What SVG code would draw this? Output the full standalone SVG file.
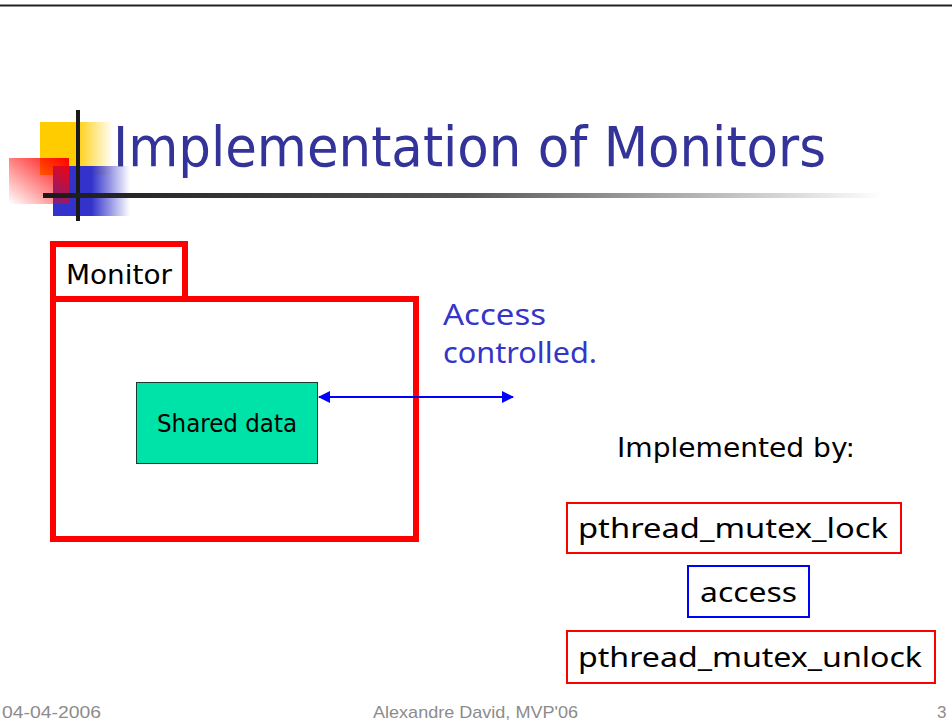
<svg xmlns="http://www.w3.org/2000/svg" width="952" height="724" viewBox="0 0 952 724">
  <defs>
    <linearGradient id="gYellow" x1="0" y1="0" x2="1" y2="0">
      <stop offset="0" stop-color="#FFCC00"/>
      <stop offset="0.48" stop-color="#FFCC00"/>
      <stop offset="1" stop-color="#FFCC00" stop-opacity="0"/>
    </linearGradient>
    <linearGradient id="gBlue" x1="0" y1="0" x2="1" y2="0">
      <stop offset="0" stop-color="#3333CC"/>
      <stop offset="0.5" stop-color="#3333CC"/>
      <stop offset="1" stop-color="#3333CC" stop-opacity="0"/>
    </linearGradient>
    <linearGradient id="gRed" x1="1" y1="0" x2="0" y2="1">
      <stop offset="0" stop-color="#FF0000"/>
      <stop offset="1" stop-color="#FF0000" stop-opacity="0"/>
    </linearGradient>
    <linearGradient id="gRule" x1="0" y1="0" x2="1" y2="0">
      <stop offset="0" stop-color="#1a1a1a"/>
      <stop offset="0.5" stop-color="#555555"/>
      <stop offset="1" stop-color="#ffffff"/>
    </linearGradient>
    <marker id="arrow" viewBox="0 0 12 12" refX="11" refY="6" markerWidth="12" markerHeight="12" markerUnits="userSpaceOnUse" orient="auto-start-reverse">
      <path d="M0,0 L12,6 L0,12 Z" fill="#0000FF"/>
    </marker>
    <style>
      .tahoma { font-family: "DejaVu Sans", "Liberation Sans", sans-serif; }
      .hand { font-family: "Noto Sans", "DejaVu Sans", sans-serif; }
      .footer { font-family: "Liberation Sans", Arial, sans-serif; font-size: 17px; fill: #8c8c8c; }
      .redbox { fill: #ffffff; stroke: #FF0000; stroke-width: 2; }
      .code { font-size: 27px; fill: #000000; }
    </style>
  </defs>

  <rect width="952" height="724" fill="#ffffff"/>

  <!-- top rule -->
  <line x1="0" y1="5.5" x2="952" y2="5.5" stroke="#222222" stroke-width="2"/>

  <!-- title ornament -->
  <g id="logo">
    <rect x="40" y="122" width="73" height="53" fill="url(#gYellow)"/>
    <rect x="53" y="166" width="77" height="50" fill="url(#gBlue)"/>
    <rect x="9" y="158" width="60" height="46" fill="url(#gRed)"/>
    <rect x="76" y="110" width="4" height="111" fill="#1a1a1a"/>
    <rect x="43" y="193" width="840" height="5" fill="url(#gRule)"/>
  </g>

  <text id="title" class="tahoma" x="113" y="166" font-size="56" fill="#333399" textLength="713" lengthAdjust="spacingAndGlyphs">Implementation of Monitors</text>

  <!-- monitor container -->
  <g id="monitor">
    <rect x="53" y="299" width="363" height="240" fill="#ffffff" stroke="#FF0000" stroke-width="6"/>
    <rect x="53" y="244" width="132" height="55" fill="#ffffff" stroke="#FF0000" stroke-width="6"/>
    <text class="tahoma" x="66" y="284" font-size="27" fill="#000000" textLength="106" lengthAdjust="spacingAndGlyphs">Monitor</text>
  </g>

  <g id="shared-data">
    <rect x="136.5" y="382.5" width="181" height="81" fill="#00E3A8" stroke="#1a3a30" stroke-width="1"/>
    <text class="tahoma" x="157" y="432" font-size="24.5" fill="#000000" textLength="140" lengthAdjust="spacingAndGlyphs">Shared data</text>
  </g>

  <g id="connectors">
    <line x1="319" y1="397" x2="513" y2="397" stroke="#0000FF" stroke-width="2" marker-start="url(#arrow)" marker-end="url(#arrow)"/>
  </g>

  <g id="access-note">
    <text class="hand" font-size="29" fill="#3535C8">
      <tspan x="443" y="325" textLength="103" lengthAdjust="spacingAndGlyphs">Access</tspan>
      <tspan x="443" y="363" textLength="154" lengthAdjust="spacingAndGlyphs">controlled.</tspan>
    </text>
  </g>

  <text id="implemented-by" class="tahoma" x="617" y="457" font-size="26" fill="#000000" textLength="238" lengthAdjust="spacingAndGlyphs">Implemented by:</text>

  <g id="lock">
    <rect class="redbox" x="567" y="503" width="334" height="50"/>
    <text class="hand code" x="578" y="538" textLength="310" lengthAdjust="spacingAndGlyphs">pthread_mutex_lock</text>
  </g>

  <g id="access">
    <rect x="688" y="566" width="121" height="51" fill="#ffffff" stroke="#0000FF" stroke-width="2"/>
    <text class="hand code" x="700" y="602" textLength="97" lengthAdjust="spacingAndGlyphs">access</text>
  </g>

  <g id="unlock">
    <rect class="redbox" x="567" y="631" width="368" height="52"/>
    <text class="hand code" x="578" y="667" textLength="344" lengthAdjust="spacingAndGlyphs">pthread_mutex_unlock</text>
  </g>

  <g id="footer">
    <text class="footer" x="2" y="718" textLength="99" lengthAdjust="spacingAndGlyphs">04-04-2006</text>
    <text class="footer" x="373" y="718" textLength="205" lengthAdjust="spacingAndGlyphs">Alexandre David, MVP'06</text>
    <text class="footer" x="937" y="718">3</text>
  </g>
</svg>
